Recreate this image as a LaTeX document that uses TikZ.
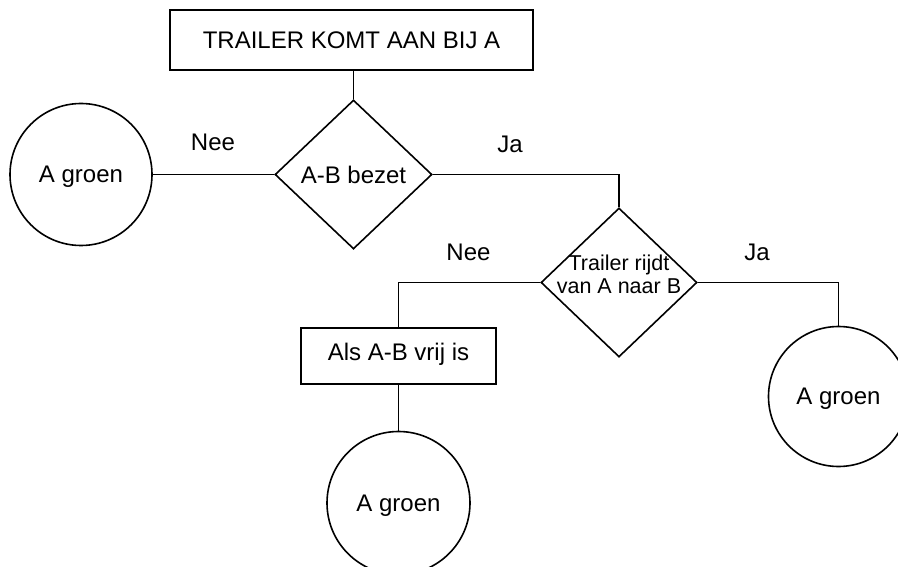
\documentclass[tikz,border=0pt]{standalone}
\usepackage{fontspec}
\setmainfont{Liberation Sans}
\usetikzlibrary{shapes.geometric}
\begin{document}
\begin{tikzpicture}[x=1pt,y=-1pt,
  every node/.style={font=\fontsize{24}{28}\selectfont, inner sep=0pt},
  line/.style={line width=1.6pt, black},
  stepbox/.style={draw, line width=1.6pt, rectangle, text depth=0pt},
  choice/.style={draw, line width=1.6pt, diamond, text depth=0pt},
  endstate/.style={draw, line width=1.6pt, circle, text depth=0pt},
  answer/.style={text depth=0pt}]
  \useasboundingbox (0,0) rectangle (898,567);

  % start
  \node[stepbox, minimum width=363pt, minimum height=60pt] (start) at (351.5,40) {TRAILER KOMT AAN BIJ A};

  % first decision
  \node[choice, minimum width=157pt, minimum height=149pt] (bezet) at (353.5,174.5) {A-B bezet};
  \node[endstate, minimum size=142pt] (groen1) at (81,174.5) {A groen};

  % second decision
  \node[choice, minimum width=156pt, minimum height=149pt,
        label={[font=\fontsize{21.5}{23}\selectfont, align=center, text depth=0pt, yshift=8pt]center:Trailer rijdt\\van A naar B}]
        (rijdt) at (619,282.5) {};
  \node[stepbox, minimum width=195pt, minimum height=56pt, text depth=9pt] (vrij) at (398.5,356) {Als A-B vrij is};
  \node[endstate, minimum size=143pt] (groen2) at (398.5,503) {A groen};
  \node[endstate, minimum size=140pt] (groen3) at (838.5,396.5) {A groen};

  % connectors
  \draw[line] (start.south -| bezet.north) -- (bezet.north);
  \draw[line] (groen1.east) -- (bezet.west);
  \draw[line] (bezet.east) -| (rijdt.north);
  \draw[line] (rijdt.west) -| (vrij.north);
  \draw[line] (vrij.south) -- (groen2.north);
  \draw[line] (rijdt.east) -| (groen3.north);

  % branch labels
  \node[answer] (nee1) at (213,142.5) {Nee};
  \node[answer] (ja1) at (510,144) {Ja};
  \node[answer] (nee2) at (468.5,252.5) {Nee};
  \node[answer] (ja2) at (757,252.5) {Ja};
\end{tikzpicture}
\end{document}
